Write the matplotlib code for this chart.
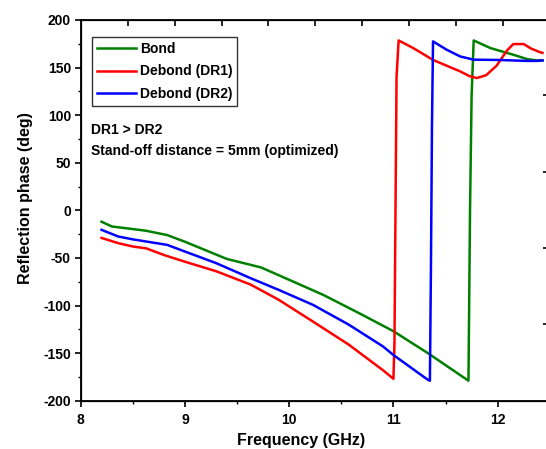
import matplotlib
matplotlib.use("Agg")
import matplotlib.pyplot as plt
from matplotlib.ticker import MultipleLocator

plt.rcParams['font.family'] = ['Liberation Sans', 'DejaVu Sans']
plt.rcParams['font.weight'] = 'bold'
plt.rcParams['axes.unicode_minus'] = False

# Bond
bond_f = [8.2, 8.3, 8.45, 8.63, 8.83, 9.0, 9.2, 9.4, 9.73, 10.0, 10.33, 10.67, 11.0, 11.33, 11.72,
          11.735, 11.75, 11.77, 11.93, 12.15, 12.28, 12.37, 12.43]
bond_p = [-12, -17, -19, -21.5, -26, -33, -42, -51, -60, -73, -89, -108, -127, -150, -179,
          0, 120, 178.5, 170.5, 163.5, 159, 157.5, 157.5]

# Debond (DR1)
dr1_f = [8.2, 8.36, 8.5, 8.63, 8.8, 9.0, 9.3, 9.63, 9.9, 10.23, 10.57, 10.9, 11.0, 11.01,
         11.02, 11.03, 11.05, 11.19, 11.38, 11.51, 11.64, 11.73, 11.8, 11.89, 11.99, 12.09,
         12.15, 12.25, 12.32, 12.41, 12.43]
dr1_p = [-29, -34.5, -38, -40, -47, -54, -64, -78, -94, -117, -141, -168, -177, -140,
         0, 140, 178.5, 170.5, 158, 152, 146, 141, 139, 142, 152, 168,
         174.7, 174.7, 170, 166, 165.5]

# Debond (DR2)
dr2_f = [8.2, 8.36, 8.5, 8.63, 8.83, 9.0, 9.3, 9.63, 9.9, 10.23, 10.57, 10.9, 11.0, 11.33,
         11.35, 11.36, 11.37, 11.38, 11.51, 11.64, 11.77, 12.0, 12.28, 12.37, 12.43]
dr2_p = [-20.5, -27.5, -30.5, -32.8, -36.3, -43.3, -55.5, -71.3, -83.6, -99.4, -120, -143, -152, -178,
         -179, -60, 90, 177.5, 168.8, 161.7, 158.3, 158, 157, 157, 157.5]

top_ticks = [8.457, 8.905, 9.353, 9.80, 10.25, 10.70, 11.15, 11.60, 12.05]
right_ticks = [120.7, 40.5, -39.4, -119.3]
right_minor = [160.6, 80.6, 0.5, -79.4, -159.3]

fig = plt.figure(figsize=(5.46, 4.49), dpi=100)
ax = fig.add_axes([0.1478, 0.1076, 0.8572, 0.8479])

ax.plot(bond_f, bond_p, color='#008000', lw=1.8, label='Bond')
ax.plot(dr1_f, dr1_p, color='#ff0000', lw=1.8, label='Debond (DR1)')
ax.plot(dr2_f, dr2_p, color='#0000ff', lw=1.8, label='Debond (DR2)')

ax.set_xlim(8, 12.49)
ax.set_ylim(-200, 200)
ax.xaxis.set_major_locator(MultipleLocator(1))
ax.xaxis.set_minor_locator(MultipleLocator(0.5))
ax.yaxis.set_major_locator(MultipleLocator(50))
ax.yaxis.set_minor_locator(MultipleLocator(25))
ax.tick_params(which='major', direction='out', length=4, width=1.2, labelsize=10, pad=3)
ax.tick_params(which='minor', direction='out', length=2.5, width=1)
ax.tick_params(axis='x', which='major', pad=5)
for s in ax.spines.values():
    s.set_linewidth(1.3)

axt = ax.twiny()
axt.set_xlim(ax.get_xlim())
axt.set_xticks(top_ticks)
axt.set_xticklabels([])
axt.tick_params(direction='in', length=4, width=1.2)

axr = ax.twinx()
axr.set_ylim(ax.get_ylim())
axr.set_yticks(right_ticks)
axr.set_yticks(right_minor, minor=True)
axr.set_yticklabels([])
axr.tick_params(which='major', direction='in', length=4, width=1.2)
axr.tick_params(which='minor', direction='in', length=2, width=1, color='#bbbbbb')

leg = ax.legend(loc='upper left', bbox_to_anchor=(0.1685, 0.917), bbox_transform=fig.transFigure,
                fontsize=10, handlelength=2.8, handletextpad=0.3, labelspacing=0.6,
                borderpad=0.35, borderaxespad=0, fancybox=False, framealpha=1)
leg.get_frame().set_edgecolor('#333333')
leg.get_frame().set_linewidth(1)

fig.text(91 / 546, 1 - 129.5 / 449, 'DR1 > DR2', fontsize=10, fontweight='bold', va='center', ha='left')
fig.text(91 / 546, 1 - 150.5 / 449, 'Stand-off distance = 5mm (optimized)', fontsize=10,
         fontweight='bold', va='center', ha='left')

fig.text(301 / 546, 1 - 440 / 449, 'Frequency (GHz)', fontsize=11.5, fontweight='bold',
         ha='center', va='center')
fig.text(26 / 546, 1 - 198 / 449, 'Reflection phase (deg)', fontsize=11.5, fontweight='bold',
         ha='center', va='center', rotation=90)

fig.savefig('out.png', dpi=100)
